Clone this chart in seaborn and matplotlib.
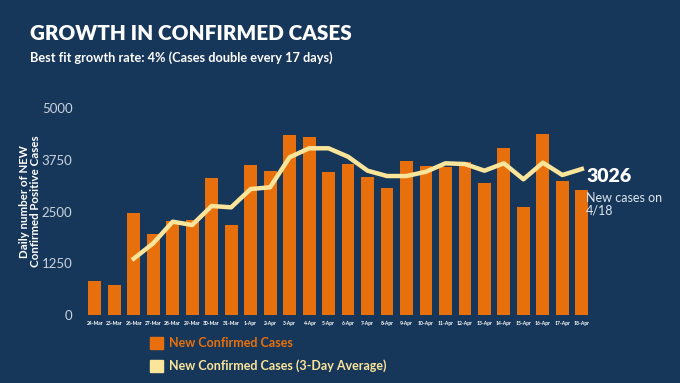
import matplotlib
matplotlib.use("Agg")
import matplotlib.pyplot as plt
import numpy as np
import pandas as pd
import seaborn as sns

# data
dates = ["24-Mar", "25-Mar", "26-Mar", "27-Mar", "28-Mar", "29-Mar", "30-Mar", "31-Mar",
         "1-Apr", "2-Apr", "3-Apr", "4-Apr", "5-Apr", "6-Apr", "7-Apr", "8-Apr", "9-Apr",
         "10-Apr", "11-Apr", "12-Apr", "13-Apr", "14-Apr", "15-Apr", "16-Apr", "17-Apr", "18-Apr"]
new_cases = [829, 717, 2471, 1957, 2278, 2295, 3316, 2174, 3616, 3471, 4348, 4307, 3461,
             3640, 3341, 3060, 3720, 3599, 3582, 3703, 3196, 4027, 2601, 4372, 3229, 3026]
avg_dates = dates[2:]
avg_cases = [1360, 1732, 2254, 2174, 2633, 2601, 3043, 3085, 3809, 4027, 4027, 3824,
             3486, 3357, 3357, 3461, 3664, 3647, 3486, 3664, 3278, 3679, 3382, 3527]
yticks = [0, 1250, 2500, 3750, 5000]

BG = "#17375a"
ORANGE = "#e8700c"
YELLOW = "#fbe59a"
TICK = "#c9d3de"

plt.rcParams['font.family'] = ['Lato', 'DejaVu Sans']

df_bars = pd.DataFrame({"date": dates, "cases": new_cases})
df_avg = pd.DataFrame({"pos": [dates.index(d) for d in avg_dates], "avg": avg_cases})

fig = plt.figure(figsize=(6.8, 3.83), dpi=100, facecolor=BG)
ax = fig.add_axes([0.125, 0.1775, 0.745, 0.5405])
ax.set_facecolor(BG)

sns.barplot(x="date", y="cases", data=df_bars, color=ORANGE, saturation=1,
            width=0.66, ax=ax)
sns.lineplot(x="pos", y="avg", data=df_avg, color=YELLOW, linewidth=3.2, ax=ax)

ax.set_ylim(0, 5000)
ax.set_xlim(-0.5, len(dates) - 0.5)
ax.set_yticks(yticks)
ax.set_yticklabels([str(t) for t in yticks], color=TICK, fontsize=9.5)
ax.set_xticks(range(len(dates)))
ax.set_xticklabels(dates, color="white", fontsize=3.6, fontweight="bold")
ax.tick_params(axis="both", length=0)
ax.tick_params(axis="y", pad=9)
ax.tick_params(axis="x", pad=4)
ax.set_xlabel("")
ax.set_ylabel("Daily number of NEW\nConfirmed Positive Cases", color="white",
              fontsize=8.3, fontweight="bold", linespacing=1.05)
ax.yaxis.set_label_coords(-0.086, 0.55)
for s in ax.spines.values():
    s.set_visible(False)

# titles
fig.text(30 / 680, 1 - 34 / 383, "GROWTH IN CONFIRMED CASES", color="white",
         fontsize=14.9, fontweight="heavy", va="center", ha="left")
fig.text(30 / 680, 1 - 58 / 383, "Best fit growth rate: 4% (Cases double every 17 days)",
         color="white", fontsize=9.2, fontweight="bold", va="center", ha="left")

# annotation of the last value
fig.text(586 / 680, 1 - 177 / 383, "3026", color="white", fontsize=14,
         fontweight="heavy", va="center", ha="left")
fig.text(586 / 680, 1 - 204 / 383, "New cases on\n4/18", color="#dfe6ee", fontsize=9,
         va="center", ha="left", linespacing=1.05)

# custom legend
fig.patches.append(plt.Rectangle((150 / 680, 1 - 349 / 383), 13 / 680, 12 / 383,
                                 transform=fig.transFigure, color=ORANGE))
fig.patches.append(plt.Rectangle((150 / 680, 1 - 372 / 383), 13 / 680, 12 / 383,
                                 transform=fig.transFigure, color=YELLOW))
fig.text(169 / 680, 1 - 343 / 383, "New Confirmed Cases", color=ORANGE, fontsize=9,
         fontweight="bold", va="center", ha="left")
fig.text(169 / 680, 1 - 366 / 383, "New Confirmed Cases (3-Day Average)", color=YELLOW,
         fontsize=9, fontweight="bold", va="center", ha="left")

fig.savefig("out.png", dpi=100, facecolor=BG)
